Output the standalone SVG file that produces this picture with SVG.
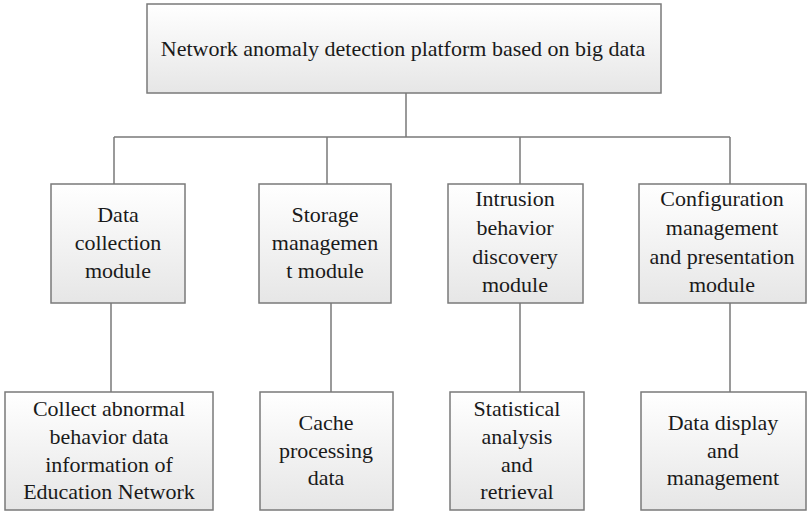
<svg xmlns="http://www.w3.org/2000/svg" width="808" height="512" viewBox="0 0 808 512">
<defs>
<linearGradient id="g" x1="0" y1="0" x2="0" y2="1">
<stop offset="0" stop-color="#ffffff"/>
<stop offset="1" stop-color="#e6e6e6"/>
</linearGradient>
<style>
.box{fill:url(#g);stroke:#7a7a7a;stroke-width:1.5}
text{font-family:'Liberation Serif','Times New Roman',serif;font-size:22px;fill:#1a1a1a;text-anchor:middle}
.c{stroke:#7a7a7a;stroke-width:1.5;fill:none}
</style>
</defs>
<rect width="808" height="512" fill="#ffffff"/>
<g id="connectors">
<path class="c" d="M406 93V137M114 137H730M114 137V184M327 137V184M520 137V184M730 137V184"/>
<path class="c" d="M111 303V392M331 303V392M520 303V392M730 303V392"/>
</g>
<g id="root">
<rect class="box" x="147" y="4" width="514" height="89"/>
<text x="403" y="56">Network anomaly detection platform based on big data</text>
</g>
<g id="data-collection">
<rect class="box" x="51" y="184" width="134" height="119"/>
<text x="118" y="222">Data</text>
<text x="118" y="250">collection</text>
<text x="118" y="278">module</text>
</g>
<g id="storage">
<rect class="box" x="259" y="184" width="132" height="119"/>
<text x="325" y="222">Storage</text>
<text x="325" y="250">managemen</text>
<text x="325" y="278">t module</text>
</g>
<g id="intrusion">
<rect class="box" x="448" y="184" width="135" height="119"/>
<text x="515" y="206">Intrusion</text>
<text x="515" y="235">behavior</text>
<text x="515" y="264">discovery</text>
<text x="515" y="292">module</text>
</g>
<g id="config">
<rect class="box" x="639" y="184" width="167" height="119"/>
<text x="722" y="206">Configuration</text>
<text x="722" y="235">management</text>
<text x="722" y="264">and presentation</text>
<text x="722" y="292">module</text>
</g>
<g id="collect">
<rect class="box" x="5" y="392" width="208" height="118"/>
<text x="109" y="416">Collect abnormal</text>
<text x="109" y="444">behavior data</text>
<text x="109" y="472">information of</text>
<text x="109" y="499">Education Network</text>
</g>
<g id="cache">
<rect class="box" x="260" y="392" width="133" height="118"/>
<text x="326" y="430">Cache</text>
<text x="326" y="458">processing</text>
<text x="326" y="485">data</text>
</g>
<g id="statistical">
<rect class="box" x="450" y="392" width="134" height="118"/>
<text x="517" y="416">Statistical</text>
<text x="517" y="444">analysis</text>
<text x="517" y="472">and</text>
<text x="517" y="499">retrieval</text>
</g>
<g id="display">
<rect class="box" x="641" y="392" width="165" height="118"/>
<text x="723" y="430">Data display</text>
<text x="723" y="458">and</text>
<text x="723" y="485">management</text>
</g>
</svg>
